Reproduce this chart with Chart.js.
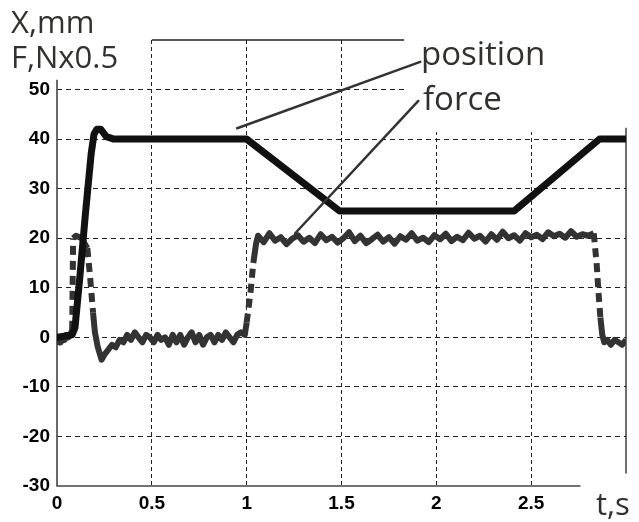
<!DOCTYPE html>
<html>
<head>
<meta charset="utf-8">
<script src="https://cdn.jsdelivr.net/npm/chart.js@4/dist/chart.umd.min.js"></script>
<style>
  html, body { margin: 0; padding: 0; background: #fff; }
  canvas { display: block; }
</style>
</head>
<body>
<canvas id="c" width="639" height="522"></canvas>
<script>
// ---- data ----
const posT = [0, 0.08, 0.095, 0.12, 0.15, 0.18, 0.195, 0.21, 0.23, 0.26, 0.3, 1.0, 1.49, 2.41, 2.86, 3.0];
const posX = [0, 0.5, 2, 12, 25, 37, 41, 42, 42, 40.5, 40, 40, 25.5, 25.5, 40, 40];

const forceT = [
  0, 0.01, 0.02, 0.03, 0.04, 0.05, 0.06, 0.07, 0.08,
  0.085, 0.1, 0.13, 0.16, 0.175, 0.19, 0.2, 0.215, 0.235, 0.25, 0.27, 0.29, 0.31, 0.33,
  0.35, 0.37, 0.39, 0.41, 0.43, 0.45, 0.47, 0.49, 0.51, 0.53, 0.55, 0.57, 0.59, 0.61,
  0.63, 0.65, 0.67, 0.69, 0.71, 0.73, 0.75, 0.77, 0.79, 0.81, 0.83, 0.85, 0.87, 0.89,
  0.91, 0.93, 0.95, 0.97, 0.99, 1.0, 1.02, 1.035, 1.05,
  1.06, 1.09, 1.12, 1.15, 1.18, 1.21, 1.24, 1.27, 1.30, 1.33, 1.36, 1.39, 1.42, 1.45, 1.48,
  1.51, 1.54, 1.57, 1.60, 1.63, 1.66, 1.69, 1.72, 1.75, 1.78, 1.81, 1.84, 1.87, 1.90, 1.93,
  1.96, 1.99, 2.02, 2.05, 2.08, 2.11, 2.14, 2.17, 2.20, 2.23, 2.26, 2.29, 2.32, 2.35, 2.38,
  2.41, 2.44, 2.47, 2.50, 2.53, 2.56, 2.59, 2.62, 2.65, 2.68, 2.71, 2.74, 2.77, 2.80, 2.83,
  2.845, 2.855, 2.865, 2.875, 2.885, 2.90, 2.92, 2.94, 2.96, 2.98, 3.0
];
const forceF = [
  -1.5, -0.5, -1, 0, -0.5, 0.5, 0, 0.5, 1.5,
  20, 20.5, 20, 18, 12, 5, 1, -2, -4.5, -3.5, -2.5, -1.5, -2, -0.5,
  -1, 0.5, -0.5, 1, 0, -1, 0.5, 0, -1, 0.5, -0.5, 0, -1.5, 0.5,
  -1, 0.5, -1.5, 0, 1, -1, 0.5, -1.5, 0, 0.5, -1, 0.5, -0.5, 1,
  0, -1, 0.5, 1, 0.5, 3, 9, 15, 19,
  20.5, 19.2, 21.0, 19.5, 20.2, 18.8, 19.9, 20.6, 19.3, 20.1, 19.0, 20.8, 19.6, 20.3, 19.1,
  20.0, 21.2, 19.4, 20.5, 19.0, 19.8, 20.7, 19.3, 20.2, 18.9, 20.4, 19.7, 21.0, 19.5, 20.1,
  19.2, 20.6, 19.8, 20.9, 19.4, 20.3, 19.6, 21.1, 19.9, 20.5, 19.3, 20.8, 19.7, 21.3, 20.0,
  20.6, 19.5, 21.0, 20.2, 20.7, 19.8, 21.2, 20.4, 20.9, 20.1, 21.4, 20.3, 20.8, 20.5, 21.0,
  15, 9, 4, 0.5, -1, -0.5, -1.5, -0.5, -1, -1.5, -0.5
];

const xTickLabels = ['0', '0.5', '1', '1.5', '2', '2.5'];
const yTickLabels = ['-30', '-20', '-10', '0', '10', '20', '30', '40', '50'];

const yTitleLines = ['X,mm', 'F,Nx0.5'];
const xTitle = 't,s';
const seriesNames = ['position', 'force'];

// ---- build datasets ----
const posData = posT.map((t, i) => ({ x: t, y: posX[i] }));
const forceData = forceT.map((t, i) => ({ x: t, y: forceF[i] }));

const frame = {
  id: 'frame',
  beforeDatasetsDraw(chart) {
    const { ctx } = chart;
    const xs = chart.scales.x, ys = chart.scales.y;
    const px = v => xs.getPixelForValue(v), py = v => ys.getPixelForValue(v);
    ctx.save();
    ctx.fillStyle = '#fff';
    ctx.fillRect(px(1.83), 0, chart.width - px(1.83), py(41.4));
    ctx.strokeStyle = '#444';
    ctx.lineWidth = 1.6;
    ctx.beginPath();
    ctx.moveTo(px(0), py(52)); ctx.lineTo(px(0), py(-30)); ctx.lineTo(px(2.76), py(-30));
    ctx.stroke();
    ctx.strokeStyle = '#222';
    ctx.lineWidth = 1.3;
    ctx.beginPath();
    ctx.moveTo(px(0.5), py(60)); ctx.lineTo(px(1.83), py(60));
    ctx.moveTo(px(3), py(42.3)); ctx.lineTo(px(3), py(-27.5));
    ctx.stroke();
    ctx.restore();
  },
  afterDraw(chart) {
    const { ctx } = chart;
    const xs = chart.scales.x, ys = chart.scales.y;
    const px = v => xs.getPixelForValue(v), py = v => ys.getPixelForValue(v);
    ctx.save();
    ctx.strokeStyle = '#333';
    ctx.lineWidth = 2.5;
    ctx.lineCap = 'round';
    ctx.beginPath();
    ctx.moveTo(px(0.95), py(42.2)); ctx.lineTo(px(1.915), py(55.6));
    ctx.moveTo(px(1.256), py(21)); ctx.lineTo(px(1.905), py(47.7));
    ctx.stroke();
    ctx.fillStyle = '#33312e';
    ctx.textAlign = 'left';
    ctx.textBaseline = 'alphabetic';
    ctx.font = '31px "Open Sans", sans-serif';
    ctx.fillText(yTitleLines[0], 11, 33);
    ctx.fillText(yTitleLines[1], 11, 68);
    ctx.font = '33px "Open Sans", sans-serif';
    ctx.fillText(seriesNames[0], 421, 65);
    ctx.fillText(seriesNames[1], 423, 110);
    ctx.font = '31px "Open Sans", sans-serif';
    ctx.fillText(xTitle, 596, 515);
    ctx.restore();
  }
};

new Chart(document.getElementById('c'), {
  type: 'line',
  data: {
    datasets: [
      {
        label: seriesNames[0],
        data: posData,
        borderColor: '#111',
        borderWidth: 7,
        pointRadius: 0,
        tension: 0,
        borderJoinStyle: 'round',
        borderCapStyle: 'round',
        fill: false
      },
      {
        label: seriesNames[1],
        data: forceData,
        borderColor: '#333',
        borderWidth: 6,
        pointRadius: 0,
        tension: 0,
        borderJoinStyle: 'round',
        fill: false,
        segment: {
          borderDash: c => Math.abs(c.p1.parsed.y - c.p0.parsed.y) > 4 ? [9, 6] : undefined
        }
      }
    ]
  },
  options: {
    responsive: false,
    animation: false,
    events: [],
    layout: { padding: { top: 40, right: 13, left: 0, bottom: 0 } },
    plugins: { legend: { display: false }, tooltip: { enabled: false } },
    scales: {
      x: {
        type: 'linear',
        min: 0, max: 3,
        afterFit: s => { s.height = 36; },
        ticks: {
          stepSize: 0.5,
          autoSkip: false,
          maxRotation: 0,
          padding: 6,
          color: '#000',
          font: { family: '"Liberation Sans", Arial, sans-serif', size: 19, weight: 'bold' },
          callback: v => { const i = Math.round(v / 0.5); return i < xTickLabels.length ? xTickLabels[i] : ''; }
        },
        grid: {
          drawTicks: false,
          lineWidth: 1,
          color: c => (c.tick && (c.tick.value <= 0 || c.tick.value >= 3)) ? 'rgba(0,0,0,0)' : '#222'
        },
        border: { display: false, dash: [4, 3] }
      },
      y: {
        min: -30, max: 60,
        afterFit: s => { s.width = 57; },
        ticks: {
          stepSize: 10,
          autoSkip: false,
          padding: 7,
          color: '#000',
          font: { family: '"Liberation Sans", Arial, sans-serif', size: 19, weight: 'bold' },
          callback: v => { const i = Math.round((v + 30) / 10); return i < yTickLabels.length ? yTickLabels[i] : ''; }
        },
        grid: {
          drawTicks: false,
          lineWidth: 1,
          color: c => (c.tick && (c.tick.value <= -30 || c.tick.value >= 60)) ? 'rgba(0,0,0,0)' : '#222'
        },
        border: { display: false, dash: [5, 4] }
      }
    }
  },
  plugins: [frame]
});
</script>
</body>
</html>
